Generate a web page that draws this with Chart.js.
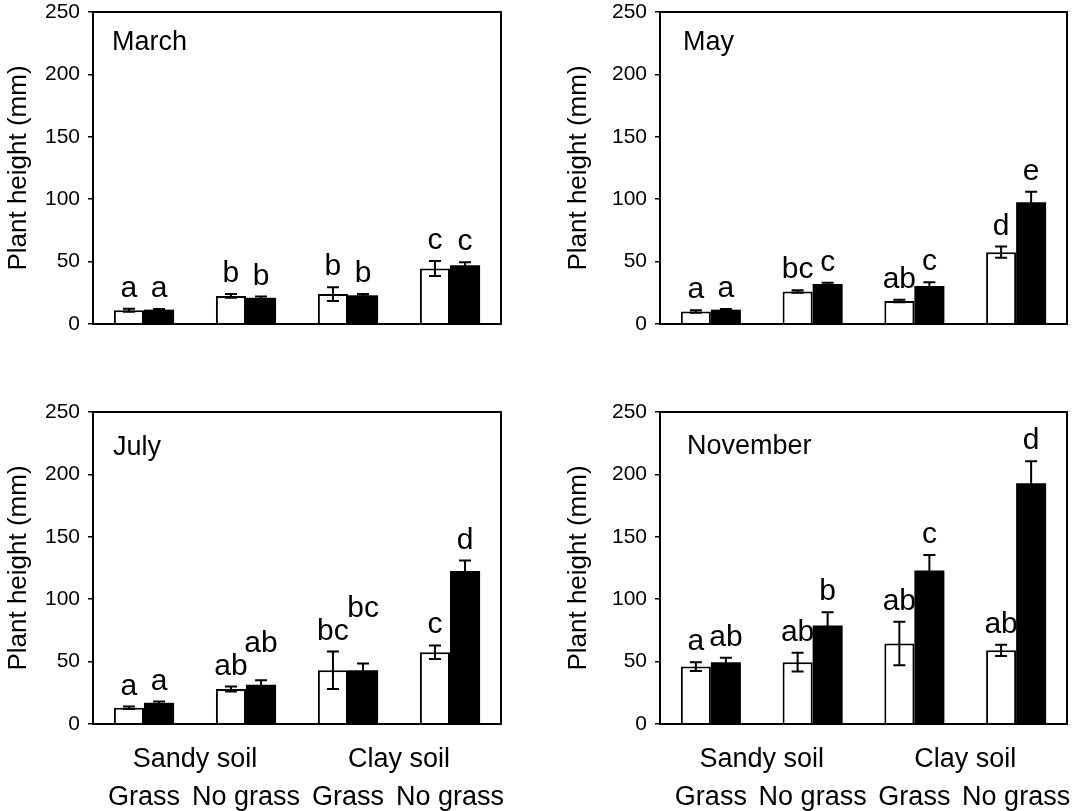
<!DOCTYPE html>
<html>
<head>
<meta charset="utf-8">
<script src="https://cdn.jsdelivr.net/npm/chart.js@4.4.1/dist/chart.umd.min.js"></script>
<style>
body { margin: 0; background: #fff; width: 1086px; height: 811px; position: relative; overflow: hidden; }
canvas { position: absolute; }
</style>
</head>
<body>
<canvas id="c0" width="560" height="400" style="left:0;top:0"></canvas>
<canvas id="c1" width="526" height="400" style="left:560px;top:0"></canvas>
<canvas id="c2" width="560" height="411" style="left:0;top:400px"></canvas>
<canvas id="c3" width="526" height="411" style="left:560px;top:400px"></canvas>
<script>
// categories and tick labels
const categories = ['Grass', 'No grass', 'Grass', 'No grass'];
const soilGroups = ['Sandy soil', 'Clay soil'];
const months = ['March', 'May', 'July', 'November'];
const yTicks = [0, 50, 100, 150, 200, 250];

// open (white) bars and filled (black) bars, mean +- error, per month
const marchOpen = [11, 22.5, 24, 44.5];
const marchOpenErr = [1.2, 1.5, 5.5, 6];
const marchFilled = [11.5, 21, 23, 47];
const marchFilledErr = [0.5, 1, 1, 2.5];
const marchOpenLetters = ['a', 'b', 'b', 'c'];
const marchFilledLetters = ['a', 'b', 'b', 'c'];

const mayOpen = [10, 26, 18.5, 57.5];
const mayOpenErr = [1, 1, 1, 4.5];
const mayFilled = [11.5, 32, 30.5, 97.5];
const mayFilledErr = [0.5, 1, 3, 8.5];
const mayOpenLetters = ['a', 'bc', 'ab', 'd'];
const mayFilledLetters = ['a', 'c', 'c', 'e'];

const julyOpen = [13, 28, 43, 57.5];
const julyOpenErr = [1, 2, 15, 5.5];
const julyFilled = [17, 31.5, 43, 122.5];
const julyFilledErr = [1, 3.5, 5.5, 8.5];
const julyOpenLetters = ['a', 'ab', 'bc', 'c'];
const julyFilledLetters = ['a', 'ab', 'bc', 'd'];

const novOpen = [46, 49.5, 64.5, 59];
const novOpenErr = [3.5, 7.5, 17.5, 4.5];
const novFilled = [49.5, 79, 123, 193];
const novFilledErr = [3.5, 10.5, 12.5, 17.5];
const novOpenLetters = ['a', 'ab', 'ab', 'ab'];
const novFilledLetters = ['ab', 'b', 'c', 'd'];

const FONT = '"Liberation Sans", Arial, sans-serif';
Chart.defaults.font.family = FONT;
Chart.defaults.color = '#000';

const panels = {
    c0: { month: months[0], open: marchOpen, openErr: marchOpenErr, filled: marchFilled, filledErr: marchFilledErr,
          lo: marchOpenLetters, lf: marchFilledLetters, bottom: false, yw: 93, padR: 59, monthDx: 19, monthDy: 38 },
    c1: { month: months[1], open: mayOpen, openErr: mayOpenErr, filled: mayFilled, filledErr: mayFilledErr,
          lo: mayOpenLetters, lf: mayFilledLetters, bottom: false, yw: 100, padR: 19, monthDx: 23, monthDy: 38 },
    c2: { month: months[2], open: julyOpen, openErr: julyOpenErr, filled: julyFilled, filledErr: julyFilledErr,
          lo: julyOpenLetters, lf: julyFilledLetters, bottom: true, yw: 93, padR: 59, monthDx: 20, monthDy: 43 },
    c3: { month: months[3], open: novOpen, openErr: novOpenErr, filled: novFilled, filledErr: novFilledErr,
          lo: novOpenLetters, lf: novFilledLetters, bottom: true, yw: 100, padR: 19, monthDx: 27, monthDy: 42 }
};

const panelDecor = {
    id: 'panelDecor',
    afterDatasetsDraw(chart) {
        const p = panels[chart.canvas.id];
        const ctx = chart.ctx;
        const y = chart.scales.y;
        const x = chart.scales.x;
        const a = chart.chartArea;
        ctx.save();
        ctx.strokeStyle = '#000';
        ctx.fillStyle = '#000';

        // error bars
        const sets = [[p.open, p.openErr], [p.filled, p.filledErr]];
        sets.forEach((s, d) => {
            const bars = chart.getDatasetMeta(d).data;
            bars.forEach((bar, i) => {
                const top = y.getPixelForValue(s[0][i] + s[1][i]);
                const bot = y.getPixelForValue(s[0][i] - s[1][i]);
                ctx.lineWidth = 2;
                ctx.beginPath();
                ctx.moveTo(bar.x, top); ctx.lineTo(bar.x, bot);
                ctx.moveTo(bar.x - 6, top); ctx.lineTo(bar.x + 6, top);
                ctx.moveTo(bar.x - 6, bot); ctx.lineTo(bar.x + 6, bot);
                ctx.stroke();
            });
        });

        // frame
        ctx.lineWidth = 2;
        ctx.strokeRect(a.left, a.top, a.right - a.left, a.bottom - a.top);

        // month name
        ctx.font = '27px ' + FONT;
        ctx.textAlign = 'left';
        ctx.textBaseline = 'alphabetic';
        ctx.fillText(p.month, a.left + p.monthDx, a.top + p.monthDy);

        // significance letters
        ctx.font = '30px ' + FONT;
        ctx.textAlign = 'center';
        const mo = chart.getDatasetMeta(0).data, mf = chart.getDatasetMeta(1).data;
        for (let i = 0; i < categories.length; i++) {
            let bo = y.getPixelForValue(p.open[i] + p.openErr[i]) - 12;
            let bf = y.getPixelForValue(p.filled[i] + p.filledErr[i]) - 12;
            const wo = ctx.measureText(p.lo[i]).width;
            const wf = ctx.measureText(p.lf[i]).width;
            if ((wo + wf) / 2 + 4 > mf[i].x - mo[i].x && bf > bo - 23) bf = bo - 23;
            ctx.fillText(p.lo[i], mo[i].x, bo);
            ctx.fillText(p.lf[i], mf[i].x, bf);
        }

        // soil groups under bottom panels
        if (p.bottom) {
            ctx.font = '27px ' + FONT;
            soilGroups.forEach((g, k) => {
                const cx = (x.getPixelForValue(k * 2) + x.getPixelForValue(k * 2 + 1)) / 2;
                ctx.fillText(g, cx, a.bottom + 43);
            });
        }
        ctx.restore();
    }
};

Object.keys(panels).forEach(id => {
    const p = panels[id];
    new Chart(document.getElementById(id), {
        type: 'bar',
        data: {
            labels: categories,
            datasets: [{
                data: p.open,
                backgroundColor: '#fff',
                borderColor: '#000',
                borderWidth: 2,
                barPercentage: 1,
                categoryPercentage: 0.59
            }, {
                data: p.filled,
                backgroundColor: '#000',
                borderColor: '#000',
                borderWidth: 0,
                barPercentage: 1,
                categoryPercentage: 0.59
            }]
        },
        options: {
            responsive: false,
            animation: false,
            events: [],
            layout: { padding: { left: 0, right: p.padR, top: 12, bottom: 0 } },
            plugins: { legend: { display: false }, tooltip: { enabled: false } },
            scales: {
                x: {
                    grid: { display: false },
                    border: { display: false },
                    ticks: { display: p.bottom, font: { size: 27 }, color: '#000', padding: 49, autoSkip: false, maxRotation: 0 },
                    afterFit: s => { s.height = p.bottom ? 87 : 76; s.paddingLeft = 0; s.paddingRight = 0; }
                },
                y: {
                    min: 0,
                    max: 250,
                    afterBuildTicks: s => { s.ticks = yTicks.map(v => ({ value: v })); },
                    ticks: { font: { size: 21 }, color: '#000', padding: 8 },
                    grid: { drawOnChartArea: false, tickLength: 5, color: '#000', lineWidth: 1.5 },
                    border: { display: false },
                    title: { display: true, text: 'Plant height (mm)', font: { size: 26 }, color: '#000', padding: { top: 3, bottom: 0 } },
                    afterFit: s => { s.width = p.yw; s.paddingTop = 0; s.paddingBottom = 0; }
                }
            }
        },
        plugins: [panelDecor]
    });
});
</script>
</body>
</html>
